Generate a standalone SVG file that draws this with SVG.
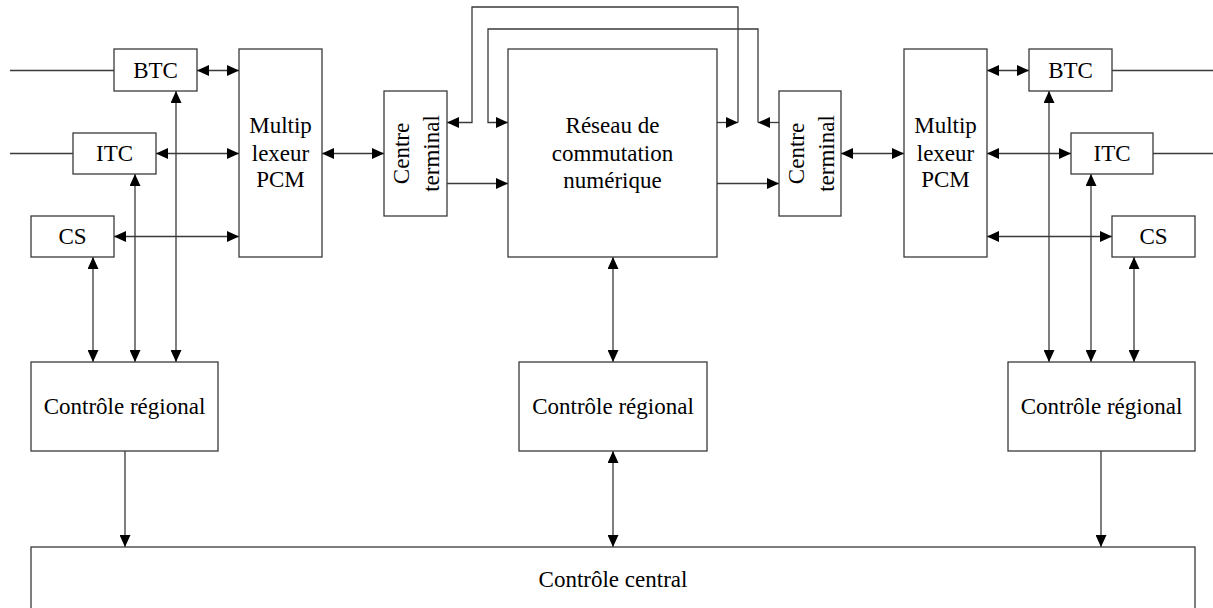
<svg xmlns="http://www.w3.org/2000/svg" width="1213" height="608" viewBox="0 0 1213 608">
  <style>
    .box { fill: #ffffff; stroke: #3a3a3a; stroke-width: 1.3; }
    .wire { fill: none; stroke: #3a3a3a; stroke-width: 1.3; }
    .lbl { font-family: "Liberation Serif", "Times New Roman", serif; font-size: 23px; fill: #000000; text-anchor: middle; }
  </style>
  <defs>
    <marker id="head" markerUnits="userSpaceOnUse" markerWidth="13" markerHeight="11" refX="12" refY="5.5" orient="auto">
      <path d="M0,0 L12,5.5 L0,11 z" fill="#000000"/>
    </marker>
    <marker id="tail" markerUnits="userSpaceOnUse" markerWidth="13" markerHeight="11" refX="0" refY="5.5" orient="auto">
      <path d="M12,0 L0,5.5 L12,11 z" fill="#000000"/>
    </marker>
  </defs>

  <rect width="1213" height="608" fill="#ffffff"/>

  <!-- connectors -->
  <g id="connectors">
    <!-- left subscriber lines -->
    <path class="wire" d="M10,70.5 H114"/>
    <path class="wire" d="M10,153.5 H73"/>
    <!-- left side to multiplexer -->
    <path class="wire" d="M197,70.5 H239" marker-start="url(#tail)" marker-end="url(#head)"/>
    <path class="wire" d="M156,153.5 H239" marker-start="url(#tail)" marker-end="url(#head)"/>
    <path class="wire" d="M114,236.5 H239" marker-start="url(#tail)" marker-end="url(#head)"/>
    <!-- left side to regional control -->
    <path class="wire" d="M93,257 V362" marker-start="url(#tail)" marker-end="url(#head)"/>
    <path class="wire" d="M135,174 V362" marker-start="url(#tail)" marker-end="url(#head)"/>
    <path class="wire" d="M176,91 V362" marker-start="url(#tail)" marker-end="url(#head)"/>
    <path class="wire" d="M125,451 V547" marker-end="url(#head)"/>
    <!-- multiplexer to terminal centre -->
    <path class="wire" d="M322,153.5 H384" marker-start="url(#tail)" marker-end="url(#head)"/>
    <!-- terminal centre to switching network -->
    <path class="wire" d="M447,183.5 H508" marker-end="url(#head)"/>
    <path class="wire" d="M717,183.5 H779" marker-end="url(#head)"/>
    <!-- outer loop -->
    <path class="wire" d="M717,122.5 H738" marker-end="url(#head)"/>
    <path class="wire" d="M738,122.5 V7 H472 V122.5 H447" marker-end="url(#head)"/>
    <!-- inner loop -->
    <path class="wire" d="M779,122.5 H758" marker-end="url(#head)"/>
    <path class="wire" d="M758,122.5 V29 H488 V122.5 H508" marker-end="url(#head)"/>
    <!-- centre column -->
    <path class="wire" d="M613,257 V362" marker-start="url(#tail)" marker-end="url(#head)"/>
    <path class="wire" d="M613,451 V547" marker-start="url(#tail)" marker-end="url(#head)"/>
    <!-- right terminal centre to multiplexer -->
    <path class="wire" d="M841,153.5 H904" marker-start="url(#tail)" marker-end="url(#head)"/>
    <!-- right multiplexer to right side -->
    <path class="wire" d="M987,70.5 H1029" marker-start="url(#tail)" marker-end="url(#head)"/>
    <path class="wire" d="M987,153.5 H1071" marker-start="url(#tail)" marker-end="url(#head)"/>
    <path class="wire" d="M987,236.5 H1112" marker-start="url(#tail)" marker-end="url(#head)"/>
    <!-- right subscriber lines -->
    <path class="wire" d="M1112,70.5 H1213"/>
    <path class="wire" d="M1153,153.5 H1213"/>
    <!-- right side to regional control -->
    <path class="wire" d="M1049,91 V362" marker-start="url(#tail)" marker-end="url(#head)"/>
    <path class="wire" d="M1091,174 V362" marker-start="url(#tail)" marker-end="url(#head)"/>
    <path class="wire" d="M1134,257 V362" marker-start="url(#tail)" marker-end="url(#head)"/>
    <path class="wire" d="M1101,451 V547" marker-end="url(#head)"/>
  </g>

  <!-- left side -->
  <g id="btc-left">
    <rect class="box" x="114" y="49" width="83" height="42"/>
    <text class="lbl" x="155.5" y="77.5">BTC</text>
  </g>
  <g id="itc-left">
    <rect class="box" x="73" y="133" width="83" height="41"/>
    <text class="lbl" x="114.5" y="161">ITC</text>
  </g>
  <g id="cs-left">
    <rect class="box" x="31" y="216" width="83" height="41"/>
    <text class="lbl" x="72.5" y="244">CS</text>
  </g>
  <g id="mux-left">
    <rect class="box" x="239" y="49" width="83" height="208"/>
    <text class="lbl" x="280.5" y="133">Multip</text>
    <text class="lbl" x="280.5" y="160.5">lexeur</text>
    <text class="lbl" x="280.5" y="187">PCM</text>
  </g>
  <g id="terminal-left">
    <rect class="box" x="384" y="91" width="63" height="125"/>
    <text class="lbl" transform="translate(409,153.5) rotate(-90)">Centre</text>
    <text class="lbl" transform="translate(439,153.5) rotate(-90)">terminal</text>
  </g>

  <!-- switching network -->
  <g id="switching-network">
    <rect class="box" x="508" y="49" width="209" height="208"/>
    <text class="lbl" x="612.5" y="132.5">Réseau de</text>
    <text class="lbl" x="612.5" y="160.5">commutation</text>
    <text class="lbl" x="612.5" y="187.5">numérique</text>
  </g>

  <!-- right side -->
  <g id="terminal-right">
    <rect class="box" x="779" y="91" width="62" height="125"/>
    <text class="lbl" transform="translate(804,153.5) rotate(-90)">Centre</text>
    <text class="lbl" transform="translate(834,153.5) rotate(-90)">terminal</text>
  </g>
  <g id="mux-right">
    <rect class="box" x="904" y="49" width="83" height="208"/>
    <text class="lbl" x="945.5" y="133">Multip</text>
    <text class="lbl" x="945.5" y="160.5">lexeur</text>
    <text class="lbl" x="945.5" y="187">PCM</text>
  </g>
  <g id="btc-right">
    <rect class="box" x="1029" y="49" width="83" height="42"/>
    <text class="lbl" x="1070.5" y="77.5">BTC</text>
  </g>
  <g id="itc-right">
    <rect class="box" x="1071" y="133" width="82" height="41"/>
    <text class="lbl" x="1112" y="161">ITC</text>
  </g>
  <g id="cs-right">
    <rect class="box" x="1112" y="216" width="83" height="41"/>
    <text class="lbl" x="1153.5" y="244">CS</text>
  </g>

  <!-- regional controls -->
  <g id="regional-left">
    <rect class="box" x="31" y="362" width="187" height="89"/>
    <text class="lbl" x="124.5" y="414">Contrôle régional</text>
  </g>
  <g id="regional-centre">
    <rect class="box" x="519" y="362" width="188" height="89"/>
    <text class="lbl" x="613" y="414">Contrôle régional</text>
  </g>
  <g id="regional-right">
    <rect class="box" x="1008" y="362" width="187" height="89"/>
    <text class="lbl" x="1101.5" y="414">Contrôle régional</text>
  </g>

  <!-- central control -->
  <g id="central-control">
    <rect class="box" x="31" y="547" width="1164" height="75"/>
    <text class="lbl" x="613" y="587">Contrôle central</text>
  </g>
</svg>
